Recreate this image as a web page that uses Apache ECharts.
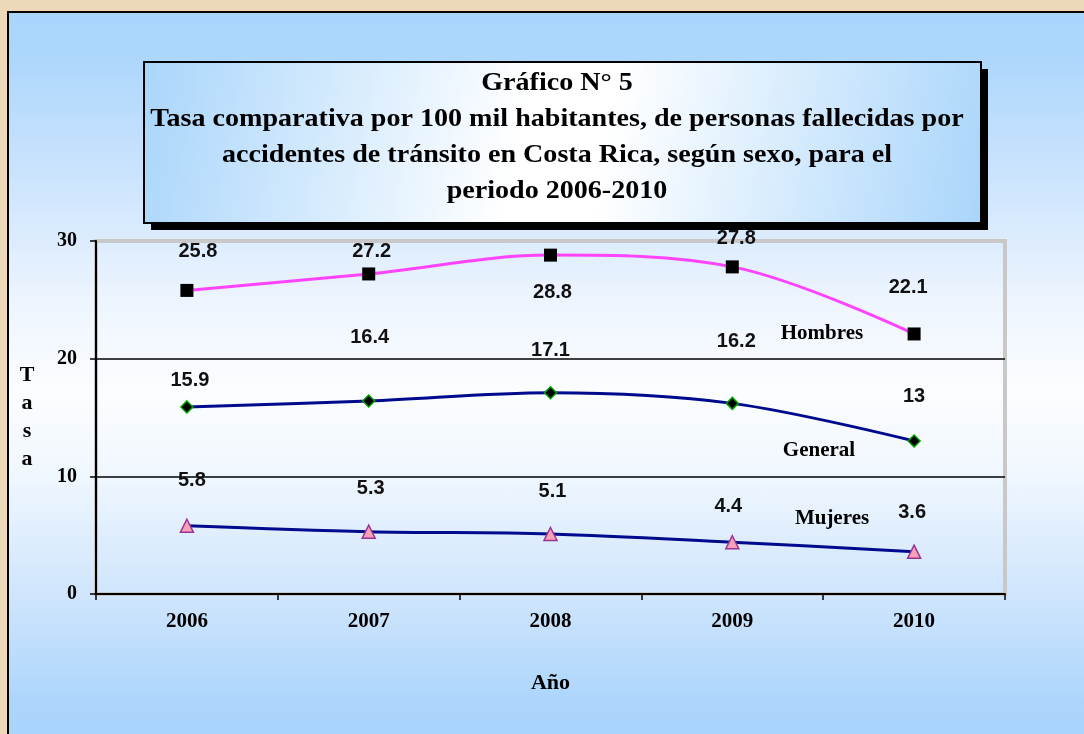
<!DOCTYPE html>
<html>
<head>
<meta charset="utf-8">
<script src="https://cdn.jsdelivr.net/npm/echarts@6/dist/echarts.min.js"></script>
<style>
html, body { margin:0; padding:0; width:1084px; height:734px; overflow:hidden; background:#eed8ba; }
#panel { position:absolute; left:7px; top:11px; width:1077px; height:723px; box-sizing:border-box;
  border-top:2px solid #000; border-left:2px solid #000;
  background: linear-gradient(to bottom, #a9d5fc 0px, #acd6fc 40px, #d2e7fd 190px, #eef5fe 290px, #fbfdff 380px, #f0f7fe 460px, #cde4fc 590px, #acd5fc 690px, #a9d4fb 723px); }
#chart { position:absolute; left:0; top:0; width:1084px; height:734px; }
</style>
</head>
<body>
<div id="panel"></div>
<div id="chart"></div>
<script>
// ---- data ----
const years = ['2006', '2007', '2008', '2009', '2010'];
const hombres = [25.8, 27.2, 28.8, 27.8, 22.1];
const general = [15.9, 16.4, 17.1, 16.2, 13];
const mujeres = [5.8, 5.3, 5.1, 4.4, 3.6];
const seriesNames = ['Hombres', 'General', 'Mujeres'];
const titleLines = [
  'Gráfico N° 5',
  'Tasa comparativa por 100 mil habitantes, de personas fallecidas por',
  'accidentes de tránsito en Costa Rica, según sexo, para el',
  'periodo 2006-2010'
];
const yAxisName = 'Tasa';
const xAxisName = 'Año';

// ---- layout (label offsets relative to points, in px) ----
const offH = [[11, -39], [3, -22], [2, 37], [4, -28], [-6, -46]];
const offG = [[3, -26], [1, -64], [0, -42], [4, -62], [0, -45]];
const offM = [[5, -45], [2, -43], [2, -43], [-4, -36], [-2, -39]];

function withOffsets(vals, offs) {
  return vals.map((v, i) => ({ value: v, label: { offset: offs[i] } }));
}

const serif = '"Liberation Serif", "Times New Roman", serif';
const sans = '"Liberation Sans", Arial, sans-serif';

const valueLabel = {
  show: true, position: 'inside', color: '#111',
  fontFamily: sans, fontWeight: 'bold', fontSize: 20
};

const chart = echarts.init(document.getElementById('chart'), null, { renderer: 'canvas' });
chart.setOption({
  animation: false,
  backgroundColor: 'transparent',
  grid: { left: 96, top: 241, right: 79, bottom: 140, show: true, borderColor: '#c8c8c8', borderWidth: 4, backgroundColor: 'transparent', containLabel: false },
  xAxis: {
    type: 'category', data: years, boundaryGap: true,
    name: xAxisName, nameLocation: 'middle', nameGap: 78,
    nameTextStyle: { fontFamily: serif, fontWeight: 'bold', fontSize: 22, color: '#000' },
    axisLine: { show: true, lineStyle: { color: '#000', width: 2 } },
    axisTick: { show: true, length: 6, alignWithLabel: false, lineStyle: { color: '#000', width: 1.5 } },
    axisLabel: { margin: 17, fontFamily: serif, fontWeight: 'bold', fontSize: 21, color: '#000' },
    splitLine: { show: false }
  },
  yAxis: {
    type: 'value', min: 0, max: 30, interval: 10,
    name: yAxisName.split('').join('\n'), nameLocation: 'middle', nameRotate: 0, nameGap: 69,
    nameTextStyle: { fontFamily: serif, fontWeight: 'bold', fontSize: 22, lineHeight: 28, color: '#000', align: 'center', verticalAlign: 'middle' },
    axisLine: { show: true, lineStyle: { color: '#000', width: 2 } },
    axisTick: { show: true, length: 6, lineStyle: { color: '#000', width: 1.5 } },
    axisLabel: { margin: 19, fontFamily: serif, fontWeight: 'bold', fontSize: 20, color: '#000' },
    splitLine: { show: true, lineStyle: { color: ['#000', '#000', '#000', 'rgba(0,0,0,0)'], width: 1.5 } }
  },
  graphic: [
    { type: 'rect', z: 0, shape: { x: 151, y: 69, width: 837, height: 161 }, style: { fill: '#000' } },
    { type: 'rect', z: 1, shape: { x: 144, y: 62, width: 837, height: 161 },
      style: { lineWidth: 2, stroke: '#000',
        fill: new echarts.graphic.LinearGradient(0, 0, 1, 1, [
          { offset: 0, color: '#a9d5fb' }, { offset: 0.45, color: '#ffffff' }, { offset: 0.55, color: '#ffffff' }, { offset: 1, color: '#a9d5fb' }
        ]) } },
    { type: 'text', z: 2, x: 557, y: 137, scaleX: 1.08, scaleY: 1,
      style: { text: titleLines.join('\n'), x: 0, y: 0, font: 'bold 26px ' + serif, lineHeight: 36,
        fill: '#000', align: 'center', verticalAlign: 'middle', textAlign: 'center', textVerticalAlign: 'middle' } },
    { type: 'text', z: 5, x: 822, y: 334,
      style: { text: seriesNames[0], font: 'bold 21px ' + serif, fill: '#000', align: 'center', verticalAlign: 'middle', textAlign: 'center', textVerticalAlign: 'middle' } },
    { type: 'text', z: 5, x: 819, y: 451,
      style: { text: seriesNames[1], font: 'bold 21px ' + serif, fill: '#000', align: 'center', verticalAlign: 'middle', textAlign: 'center', textVerticalAlign: 'middle' } },
    { type: 'text', z: 5, x: 832, y: 519,
      style: { text: seriesNames[2], font: 'bold 21px ' + serif, fill: '#000', align: 'center', verticalAlign: 'middle', textAlign: 'center', textVerticalAlign: 'middle' } }
  ],
  series: [
    {
      name: seriesNames[0], type: 'line', smooth: 0.35, data: withOffsets(hombres, offH),
      symbol: 'rect', symbolSize: 13,
      itemStyle: { color: '#000' },
      lineStyle: { color: '#ff44ff', width: 3 },
      label: valueLabel, z: 3
    },
    {
      name: seriesNames[1], type: 'line', smooth: 0.35, data: withOffsets(general, offG),
      symbol: 'diamond', symbolSize: 12,
      itemStyle: { color: '#000', borderColor: '#00a000', borderWidth: 1.5 },
      lineStyle: { color: '#000a8c', width: 3 },
      label: valueLabel, z: 3
    },
    {
      name: seriesNames[2], type: 'line', smooth: 0.35, data: withOffsets(mujeres, offM),
      symbol: 'triangle', symbolSize: 13,
      itemStyle: { color: '#f7a1b4', borderColor: '#993399', borderWidth: 1.5 },
      lineStyle: { color: '#000a8c', width: 3 },
      label: valueLabel, z: 3
    }
  ]
});
</script>
</body>
</html>
